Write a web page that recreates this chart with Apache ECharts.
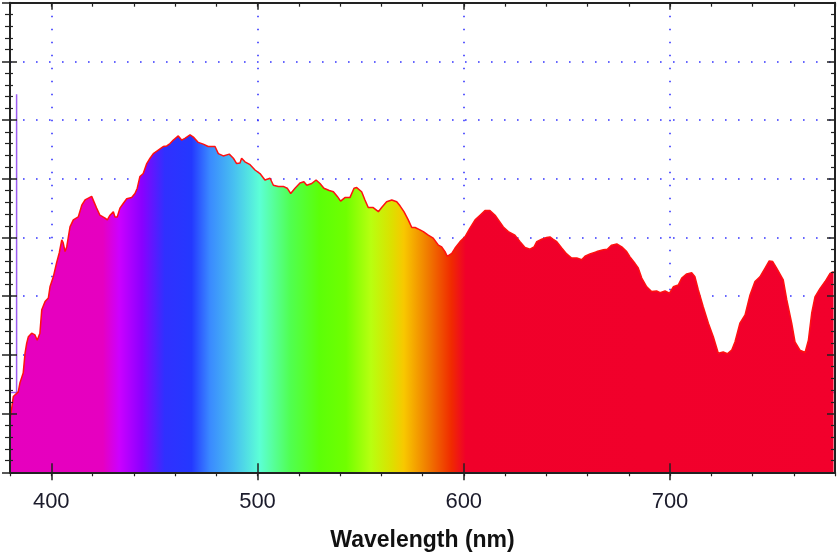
<!DOCTYPE html>
<html><head><meta charset="utf-8">
<script src="https://cdn.jsdelivr.net/npm/echarts@6/dist/echarts.min.js"></script>
<style>html,body{margin:0;padding:0;background:#fff}#c{width:839px;height:558px}</style>
</head><body><div id="c"></div>
<script>
// ---- data ----
const wavelengths = [380.0,380.5,381.6,384.0,384.8,386.4,387.3,388.1,388.9,390.5,392.1,393.2,394.5,395.4,397.0,398.6,399.4,401.0,402.6,403.9,405.1,405.8,406.7,407.5,408.3,409.1,410.7,413.1,414.8,416.4,418.0,419.6,420.4,422.0,423.6,426.1,427.2,428.5,430.1,430.9,432.0,433.3,434.9,436.6,439.0,440.6,441.7,443.0,444.6,446.3,447.9,449.5,451.9,454.3,456.0,457.6,459.2,461.6,463.2,464.8,467.3,468.9,471.3,473.7,476.1,479.4,481.0,483.4,486.3,488.3,489.9,491.5,492.3,493.9,496.4,498.8,501.2,503.6,506.1,507.7,510.1,512.5,514.4,516.1,518.2,520.6,522.5,523.9,526.3,528.4,530.3,532.2,534.8,536.8,538.7,540.3,542.4,544.8,546.8,548.1,550.5,552.1,553.7,556.1,558.6,560.2,562.6,565.1,567.5,569.1,571.0,573.1,574.8,576.4,578.8,580.4,582.8,585.2,587.7,589.3,590.9,592.0,594.2,595.8,598.2,600.6,603.0,605.5,607.9,610.3,612.7,615.2,616.8,619.2,621.6,624.8,627.3,629.7,632.1,634.1,635.4,637.8,640.2,641.8,643.4,645.1,647.5,649.9,652.3,654.8,657.2,658.8,661.2,664.5,667.7,669.6,671.7,674.2,676.6,679.0,680.6,683.0,684.6,686.3,688.7,691.1,693.5,695.2,697.6,699.7,701.6,704.0,705.7,708.1,710.5,712.1,713.7,716.1,718.6,721.0,723.4,725.8,727.8,729.9,731.5,733.9,736.4,738.8,741.2,743.6,746.1,748.1,749.8,751.7,754.9,756.6,759.0,760.6,763.0,765.5,767.1,768.7,770.3,772.7,775.2,777.6,779.3];
const intensity = [0.90,1.01,1.29,1.37,1.52,1.69,2.03,2.20,2.31,2.37,2.34,2.25,2.37,2.77,2.91,2.97,3.16,3.33,3.57,3.74,3.96,3.91,3.76,3.84,4.01,4.18,4.30,4.35,4.55,4.64,4.67,4.70,4.67,4.50,4.38,4.33,4.30,4.38,4.44,4.35,4.35,4.50,4.58,4.66,4.68,4.75,4.84,5.04,5.09,5.26,5.35,5.43,5.49,5.55,5.56,5.60,5.66,5.73,5.66,5.69,5.75,5.71,5.62,5.59,5.55,5.55,5.43,5.39,5.42,5.35,5.26,5.27,5.35,5.29,5.24,5.15,5.09,4.98,5.01,4.89,4.87,4.87,4.84,4.75,4.84,4.93,4.95,4.89,4.92,4.98,4.92,4.84,4.80,4.78,4.70,4.62,4.68,4.68,4.84,4.85,4.78,4.64,4.51,4.51,4.44,4.51,4.61,4.64,4.61,4.54,4.44,4.30,4.17,4.17,4.13,4.10,4.04,3.99,3.87,3.84,3.76,3.68,3.73,3.82,3.93,4.01,4.16,4.30,4.38,4.46,4.46,4.38,4.30,4.18,4.10,4.04,3.93,3.83,3.80,3.84,3.93,3.97,4.00,4.01,3.97,3.93,3.82,3.72,3.65,3.65,3.62,3.68,3.72,3.76,3.79,3.80,3.87,3.89,3.84,3.76,3.67,3.56,3.48,3.31,3.16,3.08,3.09,3.06,3.09,3.05,3.16,3.19,3.31,3.38,3.40,3.33,3.11,2.82,2.54,2.31,2.03,2.05,2.02,2.08,2.22,2.54,2.68,3.02,3.25,3.33,3.48,3.60,3.59,3.48,3.28,2.94,2.54,2.22,2.08,2.04,2.25,2.71,2.99,3.13,3.25,3.39,3.42];
const lampLineX = [380, 383.2, 383.2, 383.2, 780];
const lampLineY = [1.36, 1.36, 6.44, 1.36, 1.36];
const xMajorTicks = [400, 500, 600, 700];
const axisTitle = 'Wavelength (nm)';
// spectral colour stops (wavelength in nm -> fill colour)
const spectrumStopNm = [380, 425, 433, 444, 455, 468, 477, 489, 501, 516, 530, 543, 555, 565, 571, 583, 594, 601, 780];
const spectrumStopColors = ['#e600be','#e600c0','#cc00ff','#8a00ff','#3030ff','#2438ff','#3a8aff','#48c2f0','#5cffd6','#50ff50','#5cff08','#70ff00','#b8ff10','#dce000','#f8c800','#f07800','#f02a00','#f0002a','#f2002c'];

// ---- chart ----
const chart = echarts.init(document.getElementById('c'), null, {renderer: 'canvas'});
const FONT = "'Liberation Sans', Arial, sans-serif";
const AX = '#222';
const X0 = 380, X1 = 780;
const nmFirst = wavelengths[0], nmLast = wavelengths[wavelengths.length - 1];
const stops = spectrumStopNm.map((nm, i) => ({
  offset: Math.min(1, Math.max(0, (nm - nmFirst) / (nmLast - nmFirst))),
  color: spectrumStopColors[i]
}));
const gridDot = {color: '#3535ff', width: 1.6, type: [1.6, 11.4]};
const tickStyle = {color: AX, width: 1.5};
const noLbl = {show: false};
const noSplit = {show: false};

function xa(extra) {
  return Object.assign({type: 'value', min: X0, max: X1, axisLabel: noLbl, splitLine: noSplit,
    axisLine: {show: false}, axisTick: {show: false}, z: 10}, extra);
}
function ya(extra) {
  return Object.assign({type: 'value', min: 0, max: 8, interval: 1, axisLabel: noLbl, splitLine: noSplit,
    axisLine: {show: false}, axisTick: {show: false}, z: 10}, extra);
}

chart.setOption({
  animation: false,
  backgroundColor: '#fff',
  grid: {left: 10, right: 4, top: 2.7, bottom: 85.7, containLabel: false, outerBoundsMode: 'none'},
  xAxis: [
    xa({position: 'bottom', z: 0,
      axisTick: {show: false, customValues: xMajorTicks},
      axisLabel: {show: true, customValues: xMajorTicks, fontSize: 22, margin: 19, color: '#1b1b2b', fontFamily: FONT},
      splitLine: {show: true, lineStyle: gridDot},
      name: axisTitle, nameLocation: 'middle', nameGap: 57,
      nameTextStyle: {fontSize: 23, fontWeight: 'bold', color: '#111', fontFamily: FONT}}),
    xa({position: 'bottom', axisLine: {show: true, lineStyle: {color: AX, width: 2}},
      axisTick: {show: true, customValues: xMajorTicks, length: 8, lineStyle: tickStyle}}),
    xa({position: 'bottom', axisTick: {show: true, inside: true, customValues: xMajorTicks, length: 9, lineStyle: tickStyle}}),
    xa({position: 'bottom', interval: 20, axisTick: {show: true, length: 4, lineStyle: {color: AX, width: 1.2}}}),
    xa({position: 'top', interval: 20, axisLine: {show: true, lineStyle: {color: AX, width: 2}},
      axisTick: {show: true, inside: true, length: 4, lineStyle: {color: AX, width: 1.2}}}),
    xa({position: 'top', axisTick: {show: true, inside: true, customValues: xMajorTicks, length: 7, lineStyle: tickStyle}})
  ],
  yAxis: [
    ya({position: 'left', z: 0, splitLine: {show: true, lineStyle: gridDot}}),
    ya({position: 'left', axisLine: {show: true, lineStyle: {color: AX, width: 2}},
      axisTick: {show: true, length: 8, lineStyle: tickStyle},
      minorTick: {show: true, splitNumber: 5, length: 5, lineStyle: {color: AX, width: 1.2}}}),
    ya({position: 'left', axisTick: {show: true, inside: true, length: 7, lineStyle: tickStyle},
      minorTick: {show: true, splitNumber: 5, length: 3, lineStyle: {color: AX, width: 1.2}}}),
    ya({position: 'right', axisLine: {show: true, lineStyle: {color: AX, width: 2}},
      axisTick: {show: true, inside: true, length: 8, lineStyle: tickStyle},
      minorTick: {show: true, splitNumber: 5, length: 4, lineStyle: {color: AX, width: 1.2}}})
  ],
  series: [
    {type: 'line', xAxisIndex: 0, yAxisIndex: 0, z: 2, symbol: 'none', silent: true,
      data: lampLineX.map((x, i) => [x, lampLineY[i]]),
      lineStyle: {color: '#9a5cf0', width: 1.5}},
    {type: 'line', xAxisIndex: 0, yAxisIndex: 0, z: 3, symbol: 'none', silent: true, sampling: null,
      data: wavelengths.map((w, i) => [w, intensity[i]]),
      lineStyle: {color: '#ff1010', width: 1.5},
      areaStyle: {opacity: 1, color: new echarts.graphic.LinearGradient(0, 0, 1, 0, stops)}}
  ]
});
</script></body></html>
